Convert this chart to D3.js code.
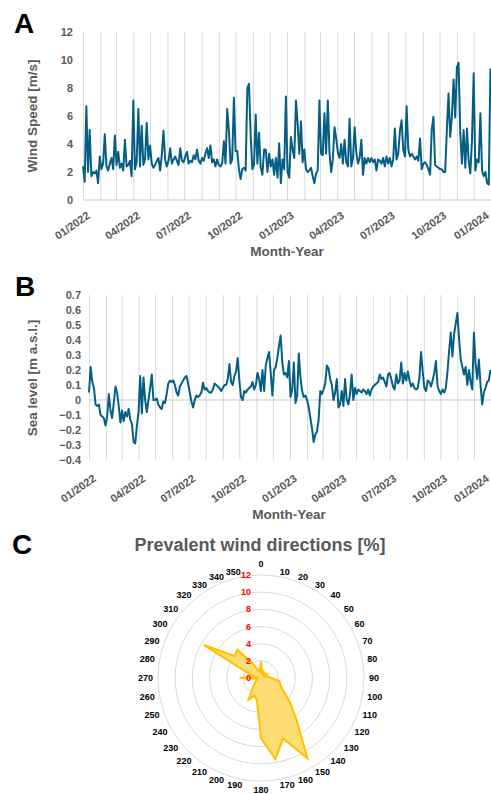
<!DOCTYPE html>
<html>
<head>
<meta charset="utf-8">
<script src="https://cdn.jsdelivr.net/npm/d3@7"></script>
<style>
  body { margin: 0; background: #fff; }
  svg { display: block; font-family: "Liberation Sans", Arial, sans-serif; }
</style>
</head>
<body>
<svg id="chart" width="491" height="794"></svg>
<script>
// samples every 3 days from 1 Jan 2022
const startDate = new Date(2022, 0, 1);
const endDate = new Date(2024, 0, 1);
const stepDays = 3;

const windSpeed2022 = [
  2.4, 1.3, 6.7, 2.0, 5.0, 1.7, 2.0, 1.9, 2.1, 1.2,
  3.1, 2.2, 2.6, 4.7, 2.4, 2.1, 2.6, 3.0, 2.2, 4.6,
  2.5, 3.45, 2.3, 2.6, 2.1, 4.3, 2.4, 2.5, 2.8, 1.7,
  7.1, 2.2, 2.7, 6.5, 2.4, 5.3, 2.5, 2.9, 5.5, 2.9,
  3.9, 2.6, 2.3, 2.5, 2.8, 3.0, 2.1, 3.2, 4.95, 2.9,
  2.4, 2.8, 3.7, 2.6, 2.9, 3.1, 2.8, 2.5, 3.7, 2.8,
  2.7, 3.1, 3.45, 2.6, 2.8, 2.7, 3.2, 2.9, 3.6, 2.8,
  2.6, 3.0, 2.8, 3.3, 3.7, 3.0, 3.9, 2.7, 2.9, 2.4,
  2.9, 2.5, 2.4, 2.6, 4.2, 2.6, 6.5, 5.0, 2.6, 2.9,
  7.3, 3.5, 3.5, 2.2, 1.5, 2.2, 2.3, 2.1, 8.0, 8.3,
  4.6, 2.2, 2.5, 6.1, 2.6, 4.8, 2.3, 1.8, 3.6, 3.6,
  2.0, 3.3, 2.4, 2.9, 1.8, 3.0, 1.6, 4.05, 1.2, 2.9,
  2.2, 7.4
];
const windSpeed2023 = [
  2.0, 1.6, 4.5, 3.6, 3.0, 7.1, 5.5, 3.3, 5.6, 2.7,
  3.6, 2.2, 2.0, 2.1, 2.3, 1.7, 1.2, 1.9, 2.1, 7.1,
  3.3, 3.2, 6.2, 3.3, 7.1, 3.4, 2.0, 2.9, 5.2, 4.4,
  3.4, 3.0, 4.0, 2.6, 4.3, 2.7, 2.4, 5.8, 2.4, 3.0,
  5.2, 3.4, 2.6, 3.0, 4.3, 1.8, 3.0, 2.6, 3.0, 2.7,
  3.0, 2.7, 2.9, 2.1, 2.9, 2.8, 2.6, 3.0, 2.4, 3.1,
  2.6, 3.0, 2.4, 2.9, 5.1, 2.9, 3.3, 4.9, 5.7, 3.6,
  3.1, 6.7, 3.6, 3.1, 3.3, 3.1, 2.9, 3.1, 2.8, 4.4,
  2.2, 2.6, 2.7, 2.5, 2.2, 1.8, 5.0, 5.95, 2.5, 2.4,
  2.3, 2.2, 2.2, 2.0, 2.0, 5.0, 7.6, 4.5, 5.95, 8.6,
  5.9, 9.5, 9.8, 4.8, 2.6, 5.0, 2.3, 5.1, 2.8, 1.9,
  4.3, 9.05, 2.1, 2.9, 2.7, 6.2, 2.1, 1.7, 2.0, 1.2,
  1.1, 9.4
];

const seaLevel2022 = [
  0.05, 0.22, 0.12, 0.08, -0.03, -0.04, -0.03, -0.10, -0.11, -0.12,
  -0.17, -0.11, 0.04, -0.07, -0.12, -0.02, 0.09, 0.05, -0.04, -0.15,
  -0.07, -0.14, -0.08, -0.11, -0.06, -0.13, -0.16, -0.28, -0.29, -0.17,
  -0.08, 0.16, -0.09, 0.15, 0.00, -0.08, 0.00, 0.08, 0.17, 0.00,
  0.00, 0.01, -0.03, -0.05, -0.06, -0.01, -0.02, 0.04, 0.11, 0.13,
  0.12, 0.13, 0.10, 0.05, 0.03, 0.09, 0.11, 0.13, 0.15, 0.16,
  0.11, 0.05, -0.01, -0.05, 0.00, 0.03, 0.02, 0.03, 0.05, 0.115,
  0.07, 0.08, 0.06, 0.05, 0.05, 0.07, 0.11, 0.10, 0.09, 0.08,
  0.06, 0.08, 0.10, 0.10, 0.14, 0.24, 0.12, 0.10, 0.16, 0.19,
  0.28, 0.13, 0.02, 0.00, 0.06, 0.05, 0.07, 0.08, 0.09, 0.12,
  0.07, 0.10, 0.18, 0.14, 0.06, 0.20, 0.06, 0.23, 0.28, 0.32,
  0.18, 0.03, 0.20, 0.22, 0.28, 0.36, 0.43, 0.25, 0.17, 0.18,
  0.15, 0.26
];
const seaLevel2023 = [
  0.02, 0.07, 0.25, -0.02, 0.03, 0.31, 0.15, 0.06, 0.02, 0.03,
  0.00, -0.05, -0.12, -0.19, -0.28, -0.23, -0.21, -0.13, 0.06, 0.04,
  0.07, 0.11, 0.23, 0.21, 0.14, 0.10, 0.00, 0.05, 0.14, -0.05,
  -0.03, 0.06, -0.04, 0.14, 0.00, -0.03, 0.04, 0.17, 0.00, 0.08,
  0.04, 0.07, 0.06, 0.05, 0.07, 0.06, 0.04, 0.07, 0.03, 0.07,
  0.09, 0.10, 0.11, 0.12, 0.17, 0.14, 0.15, 0.12, 0.09, 0.17,
  0.18, 0.14, 0.09, 0.07, 0.17, 0.11, 0.13, 0.25, 0.11, 0.18,
  0.13, 0.19, 0.13, 0.09, 0.11, 0.08, 0.07, 0.08, 0.15, 0.32,
  0.19, 0.08, 0.06, 0.13, 0.12, 0.09, 0.13, 0.18, 0.26, 0.09,
  0.06, 0.04, 0.07, 0.05, 0.08, 0.19, 0.33, 0.45, 0.29, 0.44,
  0.51, 0.58, 0.41, 0.27, 0.22, 0.17, 0.22, 0.10, 0.20, 0.12,
  0.07, 0.45, 0.24, 0.14, 0.27, 0.10, -0.03, 0.05, 0.08, 0.12,
  0.13, 0.20
];

const windTicks = [0, 2, 4, 6, 8, 10, 12];
const seaTicks = [-0.4, -0.3, -0.2, -0.1, 0, 0.1, 0.2, 0.3, 0.4, 0.5, 0.6, 0.7];

const directions = [0, 10, 20, 30, 40, 50, 60, 70, 80, 90, 100, 110, 120, 130, 140, 150, 160, 170,
  180, 190, 200, 210, 220, 230, 240, 250, 260, 270, 280, 290, 300, 310, 320, 330, 340, 350];
const directionPct = [1.9, 0.6, 0.8, 0.5, 0.7, 0.5, 0.8, 0.5, 0.9, 1.2, 2.2, 2.4, 3.0, 4.4, 6.5, 10.8, 7.5, 9.6,
  7.0, 2.7, 2.2, 2.9, 1.5, 1.0, 0.6, 0.5, 0.5, 2.5, 0.6, 1.5, 7.7, 4.0, 4.3, 2.0, 1.0, 0.8];
const radarTicks = [0, 2, 4, 6, 8, 10, 12];

const textGrey = "#595959";
const gridGrey = "#d9d9d9";
const lineBlue = "#055f85";

const svg = d3.select("#chart");

const toSeries = (values) =>
  values.map((v, i) => ({ date: d3.timeDay.offset(startDate, i * stepDays), value: v }));

function drawPanel(o) {
  const x = d3.scaleTime().domain([startDate, endDate]).range([o.left, o.right]);
  const y = d3.scaleLinear().domain(o.domain).range([o.bottom, o.top]);
  const g = svg.append("g");

  // monthly vertical gridlines
  g.append("g")
    .attr("transform", `translate(0,${o.bottom})`)
    .call(d3.axisBottom(x).ticks(d3.timeMonth.every(1)).tickSize(-(o.bottom - o.top)).tickFormat(""))
    .call((s) => s.select(".domain").remove())
    .call((s) => s.selectAll("line").attr("stroke", gridGrey).attr("stroke-width", 1));

  // horizontal axis line at zero
  g.append("line")
    .attr("x1", o.left).attr("x2", o.right)
    .attr("y1", y(0)).attr("y2", y(0))
    .attr("stroke", "#c8c8c8").attr("stroke-width", 1.2);

  // quarter labels, the last one nudged in so it is not clipped
  const qTicks = d3.timeMonth.range(startDate, d3.timeDay.offset(endDate, 1), 3);
  g.append("g")
    .attr("transform", `translate(0,${o.bottom})`)
    .call(d3.axisBottom(x).tickValues(qTicks).tickSize(0).tickFormat(d3.timeFormat("%m/%Y")))
    .call((s) => s.select(".domain").remove())
    .call((s) => s.selectAll("text")
      .attr("x", 0).attr("y", 0).attr("dy", "0.35em")
      .attr("transform", (d, i) =>
        `translate(${o.lblDx - (i === qTicks.length - 1 ? 9 : 0)},${o.lblDy}) rotate(-35)`)
      .attr("text-anchor", "end")
      .attr("fill", textGrey)
      .style("font-size", "11px").style("font-weight", "bold").style("font-family", "inherit"));

  // y labels
  g.append("g")
    .attr("transform", `translate(${o.left},0)`)
    .call(d3.axisLeft(y).tickValues(o.ticks).tickSize(0).tickPadding(o.pad).tickFormat(o.format))
    .call((s) => s.select(".domain").remove())
    .call((s) => s.selectAll("text")
      .attr("fill", textGrey)
      .style("font-size", "11px").style("font-weight", "bold").style("font-family", "inherit"));

  const line = d3.line().x((d) => x(d.date)).y((d) => y(d.value));
  g.append("path")
    .datum(o.data)
    .attr("d", line)
    .attr("fill", "none")
    .attr("stroke", lineBlue)
    .attr("stroke-width", 2)
    .attr("stroke-linejoin", "round");

  g.append("text")
    .attr("transform", `translate(${o.yTitleX},${o.yTitleY}) rotate(-90)`)
    .attr("dy", "0.35em")
    .attr("text-anchor", "middle")
    .attr("fill", textGrey)
    .style("font-size", "13.5px").style("font-weight", "bold")
    .text(o.yTitle);

  g.append("text")
    .attr("x", o.xTitleX).attr("y", o.xTitleY)
    .attr("text-anchor", "middle")
    .attr("fill", textGrey)
    .style("font-size", "13.5px").style("font-weight", "bold")
    .text("Month-Year");

  svg.append("text")
    .attr("x", o.letterX).attr("y", o.letterY)
    .style("font-size", "28px").style("font-weight", "bold")
    .text(o.letter);
}

drawPanel({
  data: toSeries(windSpeed2022.concat(windSpeed2023)),
  domain: [0, 12], ticks: windTicks, format: d3.format("d"),
  left: 83, right: 491, top: 32, bottom: 200, pad: 10,
  lblDx: 5, lblDy: 14,
  yTitle: "Wind Speed [m/s]", yTitleX: 32, yTitleY: 116,
  xTitleX: 287, xTitleY: 256,
  letter: "A", letterX: 14, letterY: 33
});

drawPanel({
  data: toSeries(seaLevel2022.concat(seaLevel2023)),
  domain: [-0.4, 0.7], ticks: seaTicks,
  format: (d) => (Math.abs(d) < 1e-9 ? "0" : d3.format(".1f")(d)),
  left: 89, right: 491, top: 295, bottom: 460, pad: 8,
  lblDx: 5, lblDy: 17,
  yTitle: "Sea level [m a.s.l.]", yTitleX: 32, yTitleY: 378,
  xTitleX: 289, xTitleY: 519,
  letter: "B", letterX: 15, letterY: 296
});

// ---- C: radar of wind directions
const cx = 261, cy = 678;
const r = d3.scaleLinear().domain([0, 12]).range([0, 103]);
const radar = svg.append("g").attr("transform", `translate(${cx},${cy})`);

radar.selectAll("circle.grid")
  .data(radarTicks.filter((d) => d > 0))
  .enter().append("circle")
  .attr("class", "grid")
  .attr("r", (d) => r(d))
  .attr("fill", "none")
  .attr("stroke", gridGrey)
  .attr("stroke-width", 1);

const radial = d3.lineRadial()
  .angle((d, i) => (directions[i] * Math.PI) / 180)
  .radius((d) => r(d))
  .curve(d3.curveLinearClosed);

radar.append("path")
  .datum(directionPct)
  .attr("d", radial)
  .attr("fill", "#ffd966")
  .attr("fill-opacity", 0.9)
  .attr("stroke", "#ffc000")
  .attr("stroke-width", 2)
  .attr("stroke-linejoin", "miter");

radar.selectAll("text.val")
  .data(radarTicks)
  .enter().append("text")
  .attr("class", "val")
  .attr("x", -10)
  .attr("y", (d) => -r(d))
  .attr("dy", "0.35em")
  .attr("text-anchor", "end")
  .attr("fill", "#ff0000")
  .style("font-size", "9px").style("font-weight", "bold")
  .text((d) => d);

// category labels sit just outside the outer ring, anchored on the side facing the ring
const labelR = r(12) + 5;
radar.selectAll("text.dir")
  .data(directions)
  .enter().append("text")
  .attr("class", "dir")
  .attr("x", (d) => labelR * Math.sin((d * Math.PI) / 180) - (d === 350 ? 1.5 : 0))
  .attr("y", (d) => {
    const yy = -labelR * Math.cos((d * Math.PI) / 180);
    return d === 0 ? yy - 6.5 : d === 180 ? yy + 4 : yy;
  })
  .attr("dy", "0.35em")
  .attr("text-anchor", (d) => (d === 0 || d === 180 ? "middle" : d < 180 ? "start" : "end"))
  .attr("fill", "#000")
  .style("font-size", "9px").style("font-weight", "bold")
  .text((d) => d);

svg.append("text")
  .attr("x", 260).attr("y", 551)
  .attr("text-anchor", "middle")
  .attr("fill", textGrey)
  .style("font-size", "18px").style("font-weight", "bold")
  .text("Prevalent wind directions [%]");

svg.append("text")
  .attr("x", 12).attr("y", 554)
  .style("font-size", "28px").style("font-weight", "bold")
  .text("C");
</script>
</body>
</html>
